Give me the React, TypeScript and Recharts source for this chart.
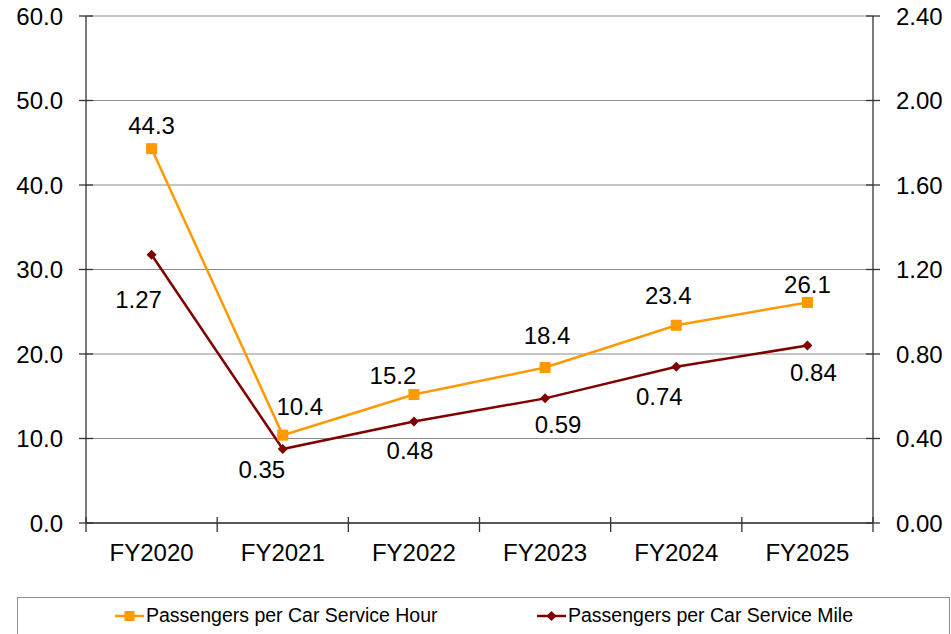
import { CartesianGrid, ComposedChart, LabelList, Legend, Line, XAxis, YAxis } from "recharts";

const years = ["FY2020", "FY2021", "FY2022", "FY2023", "FY2024", "FY2025"];
const perHour = [44.3, 10.4, 15.2, 18.4, 23.4, 26.1];
const perMile = [1.27, 0.35, 0.48, 0.59, 0.74, 0.84];
const hourTicks = [0, 10, 20, 30, 40, 50, 60];
const mileTicks = [0, 0.4, 0.8, 1.2, 1.6, 2.0, 2.4];
const boundaryTicks = [-0.5, 0.5, 1.5, 2.5, 3.5, 4.5, 5.5];
const centerTicks = [0, 1, 2, 3, 4, 5];

const data = years.map((year, i) => ({ pos: i, year, hour: perHour[i], mile: perMile[i] }));

// hand-placed label nudges (dx, dy from the point)
const hourLabelShift = [[0, -23], [17, -29], [-21, -19], [2, -32], [-8, -30], [0, -18]];
const mileLabelShift = [[-13, 45], [-21, 20], [-4, 29], [13, 26], [-17, 30], [6, 27]];

const ORANGE = "#ff9900";
const MAROON = "#800000";
const FONT = "'Liberation Sans', Arial, sans-serif";
const AXIS = "#333333";

const makeLabel = (shift: number[][], digits: number) => (props: any) => {
  const x = props.x ?? props.viewBox?.x;
  const y = props.y ?? props.viewBox?.y;
  const [dx, dy] = shift[props.index] || [0, 0];
  return (
    <text x={x + dx} y={y + dy} dy="0.36em" textAnchor="middle" fontSize={24} fontFamily={FONT} fill="#000">
      {Number(props.value).toFixed(digits)}
    </text>
  );
};

const SquareDot = (props: any) => {
  const { cx, cy } = props;
  return <rect x={cx - 5.5} y={cy - 5.5} width={11} height={11} fill={ORANGE} />;
};

const DiamondDot = (props: any) => {
  const { cx, cy } = props;
  return <polygon points={`${cx},${cy - 5} ${cx + 5},${cy} ${cx},${cy + 5} ${cx - 5},${cy}`} fill={MAROON} />;
};

function LegendBox() {
  const item = (left: number, color: string, marker: "square" | "diamond", text: string) => (
    <div style={{ position: "absolute", left, top: 6, display: "flex", alignItems: "center" }}>
      <svg width={30} height={20}>
        <line x1={0} y1={10} x2={29} y2={10} stroke={color} strokeWidth={2.5} />
        {marker === "square" ? (
          <rect x={9.5} y={5} width={10} height={10} fill={color} />
        ) : (
          <polygon points="14.5,5 19.5,10 14.5,15 9.5,10" fill={color} />
        )}
      </svg>
      <span style={{ fontFamily: FONT, fontSize: 19.5, color: "#000", marginLeft: 1 }}>{text}</span>
    </div>
  );
  return (
    <div style={{ position: "relative", width: "100%", height: "100%" }}>
      {item(97, ORANGE, "square", "Passengers per Car Service Hour")}
      {item(519, MAROON, "diamond", "Passengers per Car Service Mile")}
    </div>
  );
}

export default function App() {
  return (
    <div style={{ position: "fixed", left: 0, top: 0, width: 951, height: 634, background: "#fff" }}>
      <ComposedChart width={951} height={634} data={data} margin={{ top: 16, right: 0, bottom: 70, left: 0 }}>
        <CartesianGrid yAxisId="left" xAxisId="axis" vertical={false} stroke="#8c8c8c" strokeWidth={1.2} />
        {/* axis line with tick marks between the years */}
        <XAxis
          xAxisId="axis"
          dataKey="pos"
          type="number"
          domain={[-0.5, 5.5]}
          ticks={boundaryTicks}
          tickFormatter={() => ""}
          height={1}
          tickSize={15}
          stroke={AXIS}
          strokeWidth={1.3}
          tickLine={{ transform: "translate(0,-6)" } as any}
          allowDataOverflow
        />
        {/* year names centred under each point */}
        <XAxis
          xAxisId="names"
          dataKey="pos"
          type="number"
          domain={[-0.5, 5.5]}
          ticks={centerTicks}
          tickFormatter={(v: number) => years[v]}
          height={40}
          axisLine={false}
          tickLine={false}
          tickSize={0}
          tickMargin={20}
          tick={{ fill: "#000", fontSize: 24, fontFamily: FONT }}
        />
        <YAxis
          yAxisId="left"
          domain={[0, 60]}
          ticks={hourTicks}
          width={86}
          tickSize={14}
          tickMargin={9}
          stroke={AXIS}
          strokeWidth={1.3}
          tickLine={{ transform: "translate(7,0)" } as any}
          tickFormatter={(v: number) => v.toFixed(1)}
          tick={{ fill: "#000", fontSize: 24, fontFamily: FONT }}
        />
        <YAxis
          yAxisId="right"
          orientation="right"
          domain={[0, 2.4]}
          ticks={mileTicks}
          width={78}
          tickSize={14}
          tickMargin={9}
          stroke={AXIS}
          strokeWidth={1.3}
          tickLine={{ transform: "translate(-7,0)" } as any}
          tickFormatter={(v: number) => v.toFixed(2)}
          tick={{ fill: "#000", fontSize: 24, fontFamily: FONT }}
        />
        <Line
          xAxisId="axis"
          yAxisId="left"
          dataKey="hour"
          type="linear"
          stroke={ORANGE}
          strokeWidth={2.5}
          dot={<SquareDot />}
          activeDot={false}
          isAnimationActive={false}
        >
          <LabelList dataKey="hour" content={makeLabel(hourLabelShift, 1)} />
        </Line>
        <Line
          xAxisId="axis"
          yAxisId="right"
          dataKey="mile"
          type="linear"
          stroke={MAROON}
          strokeWidth={2.5}
          dot={<DiamondDot />}
          activeDot={false}
          isAnimationActive={false}
        >
          <LabelList dataKey="mile" content={makeLabel(mileLabelShift, 2)} />
        </Line>
        <Legend
          layout="horizontal"
          verticalAlign="middle"
          align="center"
          content={() => <LegendBox />}
          wrapperStyle={{
            left: 17,
            top: 597,
            width: 933,
            height: 50,
            border: "1px solid #8c8c8c",
            boxSizing: "border-box",
            background: "#fff",
          }}
        />
      </ComposedChart>
    </div>
  );
}
